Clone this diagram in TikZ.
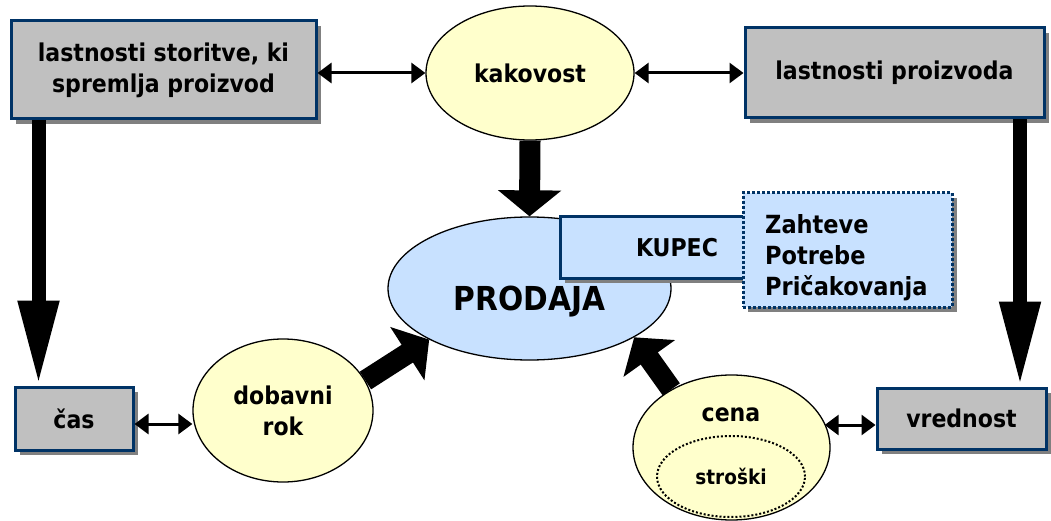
\documentclass[tikz,border=0pt]{standalone}
\usepackage{fontspec}
\setmainfont{DejaVu Sans Condensed}
\usetikzlibrary{arrows.meta,shapes.geometric,shadows,calc}

\definecolor{boxblue}{RGB}{0,51,102}
\definecolor{boxgrey}{RGB}{192,192,192}
\definecolor{paleyellow}{RGB}{255,255,204}
\definecolor{paleblue}{RGB}{200,225,255}
\definecolor{shadowgrey}{RGB}{128,128,128}

\tikzset{
  txt/.style={font=\bfseries\fontsize{24.5}{31}\selectfont},
  boxshadow/.style={drop shadow={shadow xshift=5pt,shadow yshift=-5pt,fill=shadowgrey,opacity=1}},
  greybox/.style={rectangle,draw=boxblue,line width=3pt,fill=boxgrey,boxshadow,
    inner sep=0pt,align=center,txt},
  bluebox/.style={greybox,fill=paleblue},
  dotbox/.style={rectangle,draw=boxblue,line width=3pt,dash pattern=on 3pt off 2pt,
    fill=paleblue,boxshadow,inner sep=0pt},
  oval/.style={ellipse,draw=black,line width=1.3pt,inner sep=0pt,align=center,txt},
  dbl/.style={line width=3pt,{Triangle[width=20pt,length=14pt]}-{Triangle[width=20pt,length=14pt]}},
  fat/.style={line width=21pt,-{Triangle[width=62pt,length=26pt]}},
  tall/.style={line width=14pt,-{Triangle[width=38pt,length=85pt]}},
}

\begin{document}
\begin{tikzpicture}[x=1pt,y=1pt]
\useasboundingbox (0,0) rectangle (1051,520);

% upper row
\node[greybox,minimum width=305pt,minimum height=98pt] (box1) at (163.5,450)
  {lastnosti storitve, ki\\spremlja proizvod};
\node[oval,fill=paleyellow,minimum width=208pt,minimum height=134pt] (kak) at (530,447) {kakovost};
\node[greybox,minimum width=299pt,minimum height=90pt] (box2) at (894.5,447) {lastnosti proizvoda};

% centre: sales and the customer
\node[oval,fill=paleblue,minimum width=283pt,minimum height=143pt] (prod) at (529.5,231.5) {};
\node[txt,font=\bfseries\fontsize{33}{38}\selectfont] (prodtxt) at (529.5,218) {PRODAJA};
\node[bluebox,minimum width=234pt,minimum height=61pt] (kup) at (677,272.5) {KUPEC};
\node[dotbox,minimum width=209pt,minimum height=114pt] (req) at (847.5,270) {};
\node[txt,anchor=west,align=left,inner sep=0pt,font=\bfseries\fontsize{25}{31}\selectfont]
  (reqtxt) at (765,262) {Zahteve\\Potrebe\\Pričakovanja};

% lower row
\node[greybox,minimum width=118pt,minimum height=63pt] (cas) at (74,101.5) {čas};
\node[oval,fill=paleyellow,minimum width=180pt,minimum height=143pt] (dob) at (283,109.5) {dobavni\\rok};
\node[oval,fill=paleyellow,minimum width=197pt,minimum height=145pt] (cena) at (731.5,72.5) {};
\node[txt] (cenatxt) at (731,105) {cena};
\node[ellipse,draw=black,line width=2pt,dash pattern=on 2pt off 2pt,
  minimum width=148pt,minimum height=81pt,inner sep=0pt,
  font=\bfseries\fontsize{20.5}{24}\selectfont] (strk) at (731,43.5) {stroški};
\node[greybox,minimum width=169pt,minimum height=61pt] (vred) at (961.5,101.5) {vrednost};

% two-headed links
\draw[dbl] (kak.west -| box1.east) -- (kak.west);
\draw[dbl] (kak.east) -- (kak.east -| box2.west);
\coordinate (cl) at ($(cas.east)+(0,-5.5pt)$);
\draw[dbl] (cl) -- (cl -| dob.west);
\coordinate (vl) at ($(vred.west)+(0,-6.5pt)$);
\draw[dbl] (vl) -- (vl -| cena.15);

% long downward arrows at the sides
\coordinate (ltop) at ($(cas.north west)+(25pt,0)$);
\draw[tall] (box1.south -| ltop) -- (ltop);
\coordinate (rtop) at ($(vred.north east)+(-27.5pt,0)$);
\draw[tall] (box2.south -| rtop) -- (rtop);

% heavy arrows into PRODAJA
\draw[fat] (kak.south) -- (prod.north);
\draw[fat] (dob.20) -- (prod.207);
\draw[fat] (cena.136) -- (prod.335);
\end{tikzpicture}
\end{document}
